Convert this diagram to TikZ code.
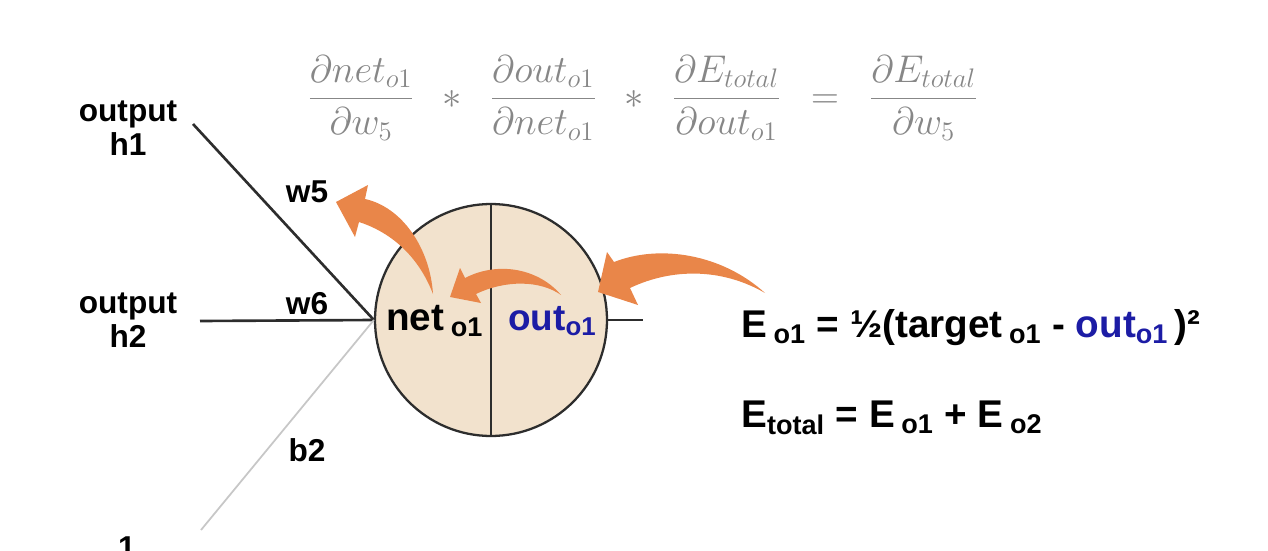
\documentclass[tikz,border=0pt]{standalone}
\usepackage[no-math]{fontspec}
\setmainfont{Liberation Sans}
\usetikzlibrary{positioning}
\definecolor{arroworange}{RGB}{233,134,73}
\definecolor{cellfill}{RGB}{242,226,205}
\definecolor{outblue}{RGB}{28,28,165}
\definecolor{wiregray}{RGB}{45,45,45}
\definecolor{formulagray}{RGB}{135,135,135}
\begin{document}
\begin{tikzpicture}[x=0.02cm,y=-0.02cm,
  lbl/.style={font=\fontsize{18}{19}\selectfont\bfseries,align=center,inner sep=0pt},
  eqn/.style={font=\fontsize{22}{25}\selectfont\bfseries,anchor=base west,inner sep=0pt},
  cellt/.style={font=\fontsize{21}{24}\selectfont\bfseries,anchor=base west,inner sep=0pt},
  wire/.style={line width=1.5pt,wiregray}]
  \useasboundingbox (0,0) rectangle (1268,551);
  \node[formulagray,inner sep=0pt,font=\huge,scale=1.06] (chain) at (643,98) {$\displaystyle\frac{\partial net_{o1}}{\partial w_5}\hspace{0.5em}*\hspace{0.5em}\frac{\partial out_{o1}}{\partial net_{o1}}\hspace{0.5em}*\hspace{0.5em}\frac{\partial E_{total}}{\partial out_{o1}}\hspace{0.5em}=\hspace{0.5em}\frac{\partial E_{total}}{\partial w_5}$};
  \node[lbl] (outh1) at (128,128) {output\\h1};
  \node[lbl] (outh2) at (128,320) {output\\h2};
  \node[lbl,anchor=north] (one) at (127,536) {1};
  \coordinate (h1end) at (193,124); \coordinate (h2end) at (200,321); \coordinate (biasend) at (201,530);
  \node[draw=wiregray,line width=1.3pt,fill=cellfill,circle,minimum size=4.64cm,inner sep=0pt] (neuron) at (491,320) {};
  \coordinate (outend) at (643,320);
  \draw[wire] (h1end) -- (neuron.west); \draw[wire] (h2end) -- (neuron.west);
  \draw[line width=1pt,black!22] (biasend) -- (neuron.west);
  \draw[wire] (neuron.north) -- (neuron.south); \draw[wire] (neuron.east) -- (outend);
  \node[lbl] (w5) at (307,192) {w5};
  \node[lbl] (w6) at (307,304) {w6};
  \node[lbl] (b2) at (307,450) {b2};
  \node[cellt,font=\fontsize{22}{24}\selectfont\bfseries] (net) at (386,330) {net\,\textsubscript{o1}};
  \node[cellt,outblue] (out) at (508,330) {out\textsubscript{o1}};
  \fill[arroworange] (765,293) .. controls (722,254) and (660,244) .. (614,262) -- (607,252) -- (598,292) -- (638,305) -- (630,288) .. controls (672,268) and (722,268) .. (765,293) -- cycle;
  \fill[arroworange] (561,295) .. controls (540,270) and (500,260) .. (465,278) -- (460,268) -- (450,297) -- (481,303) -- (476,294) .. controls (505,280) and (540,280) .. (561,295) -- cycle;
  \fill[arroworange] (433,294) .. controls (430,248) and (402,207) .. (365,199) -- (368,185) -- (336,202) -- (355,237) -- (359,222) .. controls (390,232) and (418,255) .. (433,294) -- cycle;
  \node[eqn] (eo1) at (741,337) {E\,\textsubscript{o1} = ½(target\,\textsubscript{o1} - \textcolor{outblue}{out\textsubscript{o1}}\,)²};
  \node[eqn] (etotal) at (741,427) {E\textsubscript{total} = E\,\textsubscript{o1} + E\,\textsubscript{o2}};
\end{tikzpicture}
\end{document}
